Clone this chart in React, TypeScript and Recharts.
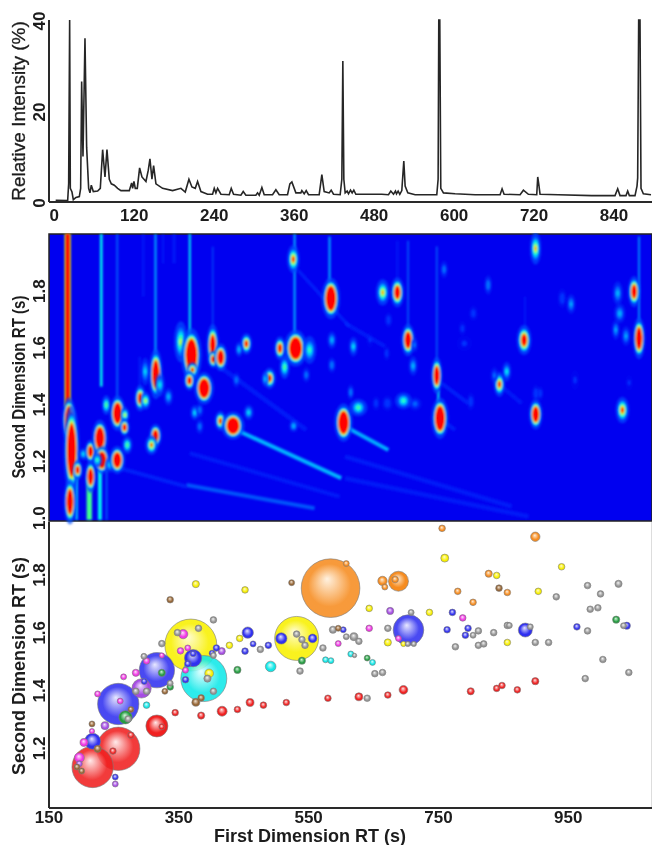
import {
  LineChart,
  Line,
  ScatterChart,
  Scatter,
  XAxis,
  YAxis,
  ZAxis,
  ReferenceLine,
  ReferenceArea,
} from "recharts";

const FONT = '"Liberation Sans", Arial, sans-serif';
const INK = "#1c1c1c";

// total ion chromatogram: [time (s), relative intensity (%)]
const ticTrace = [
  [2, 0.4], [20, 0.3], [21.5, 4], [23, 40], [24, 3], [26.5, 2.2], [28.5, 0.5], [32.5, 1], [37.5, 1.2], [39.5, 3],
  [41, 26.5], [43, 10], [46, 36], [48.5, 12], [51.5, 3], [53.5, 2], [55.5, 3.7], [58.5, 2.3], [65, 2.4], [69, 3],
  [72.5, 11.5], [76, 5.5], [79, 11.5], [82.5, 5], [85.5, 4], [90, 3.7], [95, 3], [100, 2.5], [112.5, 2.5], [116, 4.2],
  [117.5, 3], [119.5, 4.5], [121.5, 3], [124.5, 3], [128, 7.5], [131.5, 5.5], [137.5, 4.5], [141, 7], [143.5, 9.5],
  [146.5, 5], [149, 8], [152.5, 4], [162.5, 3], [177.5, 2.5], [190, 3], [196.5, 2.2], [202, 5], [206.5, 3.3],
  [211.5, 3], [215, 4.5], [220, 2.3], [230, 1.7], [237.5, 1.7], [240, 3], [242.5, 2], [245, 3], [250, 1.7],
  [262.5, 1.6], [265.5, 3], [269, 1.7], [280, 1.5], [283.5, 2.3], [287.5, 1.5], [302.5, 1.5], [305, 2], [307.5, 1.5],
  [311.5, 3.2], [315, 1.6], [327.5, 1.6], [332.5, 2.7], [337.5, 1.6], [350, 1.6], [353.5, 4], [356.5, 4.4],
  [362.5, 2], [370, 2], [371.5, 2.5], [375, 1.8], [378, 2.5], [381.5, 1.6], [397.5, 1.6], [401.5, 6], [405, 2.3],
  [412.5, 2], [415.5, 2.6], [419, 1.7], [429, 1.6], [431.5, 5], [433, 31], [434.5, 5], [436.5, 2], [439.5, 2.4],
  [441.5, 1.8], [444.5, 2.6], [447, 2], [449.5, 2.6], [452.5, 1.7], [471.5, 1.7], [491.5, 1.7], [501.5, 1.6],
  [505, 2.4], [509, 1.7], [512, 2.4], [513.5, 1.8], [516, 2.4], [518.5, 1.7], [521.5, 2.5], [524.5, 9], [526.5, 3.5],
  [530.5, 2], [541.5, 1.6], [574, 1.6], [576, 5], [577, 40], [578.5, 40], [580, 3], [584, 2], [601.5, 1.8],
  [631.5, 1.6], [669, 1.6], [672, 2.9], [675, 1.7], [699, 1.6], [704, 2.6], [711.5, 1.7], [724, 1.6], [725.5, 5.5],
  [727, 4], [729, 1.7], [756.5, 1.6], [806.5, 1.4], [841.5, 1.4], [845.5, 2.9], [849, 1.4], [858, 1.4], [860.5, 2.4],
  [863, 1.4], [871.5, 1.4], [874.5, 3.5], [875.5, 5.3], [877, 40], [879, 40], [880.5, 3], [884, 1.8], [895.5, 1.6],
];
const ticTimeTicks = [0, 120, 240, 360, 480, 600, 720, 840];
const ticIntensityTicks = [0, 20, 40];

// contour plot peaks: [1st dim (s), 2nd dim (s), half width (s), half height (s), apex]
const contourPeaks = [
  [24, 1.328, 5, 0.059, 3], [28, 1.222, 6, 0.118, 3], [25.5, 1.04, 4.5, 0.059, 2.5], [37, 1.152, 3.5, 0.024, 1.5],
  [46, 1.208, 4, 0.014, 0.45], [56.5, 1.217, 4, 0.029, 2], [56.5, 1.128, 4, 0.041, 2.2], [70.5, 1.264, 6, 0.047, 3],
  [73.5, 1.187, 6, 0.035, 3], [66.5, 1.187, 3.5, 0.018, 0.6], [85.5, 1.17, 4, 0.018, 0.45], [96.5, 1.187, 6, 0.035, 2.5],
  [97, 1.352, 6, 0.045, 3], [108, 1.346, 3, 0.018, 0.8], [107.5, 1.302, 3.5, 0.021, 1.5], [111.5, 1.24, 3.5, 0.021, 0.7],
  [80, 1.381, 3, 0.024, 0.7], [131, 1.405, 4, 0.033, 1.6], [139, 1.396, 3.5, 0.021, 0.8], [154.5, 1.49, 5, 0.065, 2.5],
  [160.5, 1.452, 3.5, 0.029, 0.5], [138.5, 1.499, 3, 0.035, 0.45], [173.5, 1.41, 3, 0.021, 0.4], [154, 1.273, 4.5, 0.029, 2],
  [148, 1.24, 4.5, 0.024, 1], [192, 1.604, 5, 0.053, 0.8], [208, 1.557, 8, 0.07, 3], [209.5, 1.505, 4, 0.018, 1.2],
  [205, 1.467, 4, 0.024, 1.5], [227, 1.44, 7.5, 0.041, 3], [240, 1.593, 4.5, 0.053, 2], [241, 1.542, 4, 0.021, 1.5],
  [252, 1.549, 5, 0.035, 2.2], [290.5, 1.597, 4, 0.026, 1.3], [279.5, 1.577, 2.5, 0.018, 0.4], [325.5, 1.475, 4.5, 0.026, 1.3],
  [319, 1.473, 2.5, 0.018, 0.4], [341, 1.581, 4, 0.029, 1.5], [348, 1.514, 3.5, 0.029, 0.7], [364.5, 1.581, 9, 0.047, 3],
  [385.5, 1.575, 5, 0.035, 0.6], [361, 1.895, 4.5, 0.035, 1.1], [417.5, 1.757, 7, 0.053, 3], [419, 1.61, 3, 0.021, 0.4],
  [419, 1.522, 2.5, 0.018, 0.3], [436.5, 1.319, 7, 0.049, 3], [251.5, 1.325, 4, 0.024, 1.2], [270.5, 1.308, 9, 0.035, 3],
  [294, 1.355, 3.5, 0.018, 0.45], [213, 1.354, 3, 0.018, 0.45], [220.5, 1.363, 2.5, 0.018, 0.25], [220.5, 1.305, 2.5, 0.018, 0.25],
  [361.5, 1.307, 3, 0.014, 0.4], [275.5, 1.469, 2.5, 0.018, 0.25], [380.5, 1.487, 2.5, 0.018, 0.25],
  [725, 1.933, 4, 0.041, 0.9], [587.6, 1.859, 2.5, 0.021, 0.25], [495.4, 1.778, 5, 0.033, 0.9], [517.4, 1.778, 5, 0.038, 1.8],
  [533.5, 1.61, 5, 0.041, 2.2], [543, 1.593, 2.5, 0.018, 0.2], [576.6, 1.485, 4, 0.047, 2.2], [581.5, 1.334, 6.5, 0.053, 3],
  [541, 1.519, 3, 0.024, 0.4], [653.8, 1.804, 2.5, 0.024, 0.3], [707.8, 1.61, 5.5, 0.038, 1.6], [670.7, 1.454, 4, 0.031, 1.2],
  [681.7, 1.499, 3, 0.024, 0.5], [725.3, 1.348, 5, 0.038, 2.2], [855.5, 1.363, 5, 0.033, 1.1], [848.5, 1.775, 3.5, 0.029, 0.4],
  [851.5, 1.704, 4, 0.024, 0.4], [845.6, 1.646, 2.5, 0.024, 0.35], [860.9, 1.624, 3, 0.024, 0.35], [873.1, 1.781, 4.5, 0.039, 1.8],
  [880.5, 1.616, 4.5, 0.053, 2.4], [778.4, 1.737, 3, 0.024, 0.35], [765, 1.757, 3, 0.024, 0.15], [526.5, 1.396, 6.5, 0.02, 0.6],
  [458.8, 1.372, 7, 0.021, 0.65], [451.3, 1.587, 3, 0.024, 0.45], [447.3, 1.426, 2, 0.018, 0.3], [502.4, 1.387, 4, 0.018, 0.15],
  [544, 1.385, 5, 0.015, 0.2], [627.7, 1.393, 2.5, 0.021, 0.15], [485.4, 1.387, 2.5, 0.018, 0.12], [504.1, 1.681, 2.5, 0.018, 0.15],
  [631.6, 1.704, 3, 0.018, 0.12], [615.1, 1.651, 2.5, 0.018, 0.1], [618, 1.598, 6, 0.018, 0.08], [501.4, 1.563, 2, 0.018, 0.12],
  [725.5, 1.422, 2.5, 0.021, 0.15], [732, 1.422, 2, 0.018, 0.12], [663.2, 1.485, 2.5, 0.021, 0.2], [476.3, 1.61, 2.5, 0.018, 0.08],
  [784.4, 1.469, 3, 0.024, 0.08], [865.6, 1.46, 2.5, 0.018, 0.08],
];
// tailing of the peaks: [x1, y1, x2, y2, level, width (s)]
const contourStreaks = [
  [22, 1.984, 22, 1.375, 0.62, 9], [22, 1.984, 22, 1.375, 0.97, 6], [72.5, 1.984, 72.5, 1.446, 0.4, 4],
  [96.5, 1.984, 96.5, 1.399, 0.2, 3], [154, 1.984, 154, 1.528, 0.28, 3], [70.5, 1.152, 70.5, 0.976, 0.45, 6],
  [54.5, 1.128, 54.5, 0.976, 0.55, 8], [35.5, 1.128, 35.5, 0.976, 0.3, 4], [80.5, 1.152, 80.5, 0.976, 0.16, 3],
  [205.5, 1.984, 205.5, 1.622, 0.38, 3], [240, 1.939, 240, 1.634, 0.14, 2], [363, 1.984, 363, 1.61, 0.3, 3],
  [415.5, 1.975, 415.5, 1.798, 0.3, 3], [182, 1.984, 182, 1.88, 0.1, 4], [165.5, 1.984, 165.5, 1.88, 0.07, 3],
  [135.5, 1.984, 135.5, 1.763, 0.08, 3], [130.5, 1.551, 130.5, 1.422, 0.1, 3], [517.4, 1.96, 517.4, 1.82, 0.1, 2.5],
  [533.5, 1.96, 533.5, 1.646, 0.2, 2.5], [576.6, 1.94, 576.6, 1.528, 0.2, 2.5], [579, 1.434, 579, 1.375, 0.4, 3],
  [880.5, 1.975, 880.5, 1.657, 0.25, 2.5], [709, 1.763, 709, 1.646, 0.05, 3],
  [275.5, 1.293, 433, 1.123, 0.3, 6], [200.5, 1.099, 393, 1.017, 0.18, 6], [100.5, 1.158, 200.5, 1.093, 0.12, 6],
  [205.5, 1.211, 430.5, 1.058, 0.08, 6], [368, 1.857, 445.5, 1.657, 0.1, 5], [250.5, 1.516, 380.5, 1.293, 0.07, 7],
  [438.8, 1.305, 503.9, 1.222, 0.28, 6], [438.8, 1.199, 689, 1.023, 0.08, 7], [438.8, 1.123, 714.3, 0.988, 0.06, 7],
  [584, 1.457, 624, 1.387, 0.12, 6], [584, 1.328, 604, 1.293, 0.1, 6], [674, 1.446, 704, 1.387, 0.06, 6],
  [438.8, 1.669, 499, 1.587, 0.07, 6],
];
const secondDimTicks = [1.0, 1.2, 1.4, 1.6, 1.8];

// identified compounds by class: [1st dim RT, 2nd dim RT, peak area]
const redPeaks = [
  [217.2, 1.132, 427], [256.7, 1.195, 469], [316.2, 1.274, 121], [248.5, 1.187, 11], [276.2, 1.242, 11], [323.8, 1.271, 9],
  [344.4, 1.32, 11], [384.4, 1.31, 13], [416.7, 1.325, 25], [440.3, 1.331, 11], [459.7, 1.355, 16], [480.3, 1.346, 11],
  [515.6, 1.355, 11], [579.7, 1.37, 11], [627.4, 1.375, 16], [672, 1.381, 11], [696.1, 1.399, 19], [799.7, 1.394, 13],
  [839.7, 1.404, 11], [847.9, 1.414, 11], [871.5, 1.399, 11], [899.2, 1.429, 13],
];
const bluePeaks = [
  [256.7, 1.35, 427], [316.2, 1.467, 312], [217.2, 1.221, 64], [372, 1.509, 75], [456.2, 1.597, 32], [507.9, 1.577, 32],
  [556.1, 1.577, 19], [372, 1.524, 9], [363.8, 1.489, 11], [360.3, 1.434, 11], [401.3, 1.526, 9], [407.9, 1.544, 11],
  [452, 1.533, 11], [464.4, 1.558, 9], [487.9, 1.553, 11], [603.3, 1.607, 9], [252.1, 1.097, 9], [296.7, 1.428, 9],
  [703.8, 1.606, 235], [883.8, 1.606, 49], [771.5, 1.667, 11], [763.3, 1.607, 11], [795.6, 1.612, 11], [791.5, 1.588, 11],
  [963.3, 1.617, 11], [1040.2, 1.621, 13],
];
const yellowPeaks = [
  [368.5, 1.554, 676], [531.5, 1.577, 484], [376.2, 1.765, 13], [452, 1.745, 11], [427.9, 1.553, 11], [443.8, 1.577, 11],
  [396.7, 1.456, 19], [643.3, 1.681, 11], [736.1, 1.667, 11], [672, 1.563, 13], [696.1, 1.558, 7], [759.7, 1.855, 16],
  [839.7, 1.795, 11], [939.7, 1.825, 11], [903.8, 1.74, 11], [856.1, 1.563, 11],
];
const cyanPeaks = [
  [388.5, 1.438, 529], [491.5, 1.48, 28], [300.3, 1.346, 11], [576.1, 1.503, 9], [584.3, 1.5, 9], [615, 1.523, 9], [648.4, 1.494, 9],
];
const orangePeaks = [
  [583.8, 1.751, 860], [608, 1.836, 9], [688.4, 1.775, 100], [663.8, 1.776, 22], [667.4, 1.755, 9], [683.3, 1.781, 11],
  [755.6, 1.958, 11], [899.2, 1.929, 22], [827.4, 1.801, 13], [779.7, 1.74, 11], [803.3, 1.702, 11], [856.1, 1.736, 11],
];
const magentaPeaks = [
  [356.7, 1.592, 22], [196.7, 1.164, 25], [203.9, 1.217, 16], [224.9, 1.385, 9], [259.7, 1.36, 9], [264.9, 1.444, 9],
  [283.8, 1.458, 13], [300.3, 1.499, 11], [323.8, 1.518, 7], [352.6, 1.534, 11], [363.8, 1.544, 9], [360.3, 1.467, 9],
  [216.2, 1.256, 7], [595.6, 1.559, 9], [643.3, 1.612, 11], [688.4, 1.577, 9], [787.4, 1.648, 11],
];
const purplePeaks = [
  [292.6, 1.404, 93], [236.2, 1.275, 16], [416.1, 1.533, 13], [252.1, 1.073, 9], [196.7, 1.143, 9], [675.6, 1.672, 13],
];
const greenPeaks = [
  [267.9, 1.304, 44], [323.8, 1.458, 13], [336.7, 1.409, 11], [440.3, 1.468, 13], [539.7, 1.5, 13], [640.2, 1.509, 9], [1023.8, 1.642, 13],
];
const brownPeaks = [
  [336.7, 1.711, 11], [523.8, 1.77, 9], [216.2, 1.281, 9], [276.2, 1.331, 9], [224.9, 1.195, 13], [193.1, 1.132, 9],
  [200.3, 1.118, 9], [328.5, 1.394, 9], [376.2, 1.356, 16], [384.4, 1.371, 11], [595.6, 1.612, 9], [843.3, 1.751, 11],
];
const greyPeaks = [
  [403.3, 1.641, 11], [380.3, 1.612, 11], [347.9, 1.597, 11], [323.8, 1.559, 11], [296.2, 1.515, 9], [283.8, 1.394, 11],
  [300.3, 1.394, 11], [336.7, 1.422, 9], [272, 1.298, 11], [394.1, 1.438, 13], [403.3, 1.394, 11], [403.3, 1.518, 9],
  [475.6, 1.539, 11], [531.5, 1.592, 11], [539.7, 1.573, 11], [544.4, 1.553, 11], [572, 1.544, 11], [536.7, 1.464, 11],
  [587.4, 1.607, 13], [608, 1.583, 9], [707.9, 1.667, 9], [672, 1.612, 11], [619.7, 1.583, 16], [627.4, 1.567, 11],
  [620.7, 1.518, 5], [652, 1.455, 11], [663.8, 1.459, 11], [640.2, 1.37, 11], [702.8, 1.558, 7], [712, 1.558, 7],
  [811.5, 1.603, 11], [803.3, 1.588, 9], [835.1, 1.597, 11], [776.1, 1.548, 11], [811.5, 1.553, 11], [819.7, 1.558, 11],
  [856.1, 1.622, 11], [859.2, 1.622, 9], [891.5, 1.617, 9], [899.2, 1.563, 11], [919.7, 1.563, 11], [931.5, 1.721, 11],
  [979.7, 1.76, 11], [999.7, 1.731, 11], [1027.4, 1.766, 13], [983.8, 1.678, 11], [995.6, 1.683, 11], [979.7, 1.603, 11],
  [1035.1, 1.621, 9], [1003.3, 1.504, 11], [976.1, 1.438, 11], [1043.3, 1.459, 11],
];
const bubbleRtTicks = [150, 350, 550, 750, 950];
const bubbleSecondTicks = [1.2, 1.4, 1.6, 1.8];

const CLASSES = [
  { id: "red", color: "#f02020", tint: "#ffe8e8", peaks: redPeaks },
  { id: "blue", color: "#3030f0", tint: "#e4e4ff", peaks: bluePeaks },
  { id: "yellow", color: "#f8f000", tint: "#fffcd0", peaks: yellowPeaks },
  { id: "cyan", color: "#10e8e8", tint: "#e0ffff", peaks: cyanPeaks },
  { id: "orange", color: "#f68c20", tint: "#fff0dc", peaks: orangePeaks },
  { id: "magenta", color: "#f035e4", tint: "#ffe4fc", peaks: magentaPeaks },
  { id: "purple", color: "#a64ce4", tint: "#f4e8ff", peaks: purplePeaks },
  { id: "green", color: "#249c40", tint: "#d0f4d8", peaks: greenPeaks },
  { id: "brown", color: "#946434", tint: "#f2e4d4", peaks: brownPeaks },
  { id: "grey", color: "#959595", tint: "#f4f4f4", peaks: greyPeaks },
];

const ticData = ticTrace.map(([t, v]) => ({ t, v }));
const spotData = contourPeaks.map(([rt1, rt2, w, h, apex]) => ({ rt1, rt2, w, h, apex }));
const bubbleData = CLASSES.flatMap((c) => c.peaks.map(([rt1, rt2, z]) => ({ rt1, rt2, z, cls: c.id }))).sort(
  (a, b) => b.z - a.z
);

// jet colormap steps
const JET = [
  [0.05, "#0030ff"],
  [0.15, "#0070ff"],
  [0.3, "#00b4ff"],
  [0.42, "#00f0f0"],
  [0.55, "#40ff90"],
  [0.7, "#c8ff20"],
  [0.82, "#ff9000"],
  [0.95, "#ff0000"],
] as const;

const jetColor = (level: number) => {
  let out = "#0000f0";
  JET.forEach(([t, c]) => {
    if (level >= t) out = c;
  });
  return out;
};

// px per unit of the contour plot
const PX_X = 603 / 906;
const PX_Y = 287 / 1.012;

const ContourSpot = (props: any) => {
  const { cx, cy, payload } = props;
  const { w, h, apex } = payload;
  return (
    <g filter="url(#soft)">
      <ellipse cx={cx} cy={cy} rx={w * PX_X * 1.75 + 1} ry={h * PX_Y * 1.3 + 1} fill="#0050ff" fillOpacity={Math.min(0.7, apex)} />
      {JET.filter(([t]) => t < apex).map(([t, c]) => {
        const s = 1 - t / apex;
        return <ellipse key={t} cx={cx} cy={cy} rx={w * PX_X * 1.35 * s + 0.8} ry={h * PX_Y * 1.1 * s + 0.8} fill={c} />;
      })}
    </g>
  );
};

const Bubble = (props: any) => {
  const { cx, cy, width, payload } = props;
  const r = width / 2;
  return (
    <circle
      cx={cx}
      cy={cy}
      r={r}
      fill={`url(#grad-${payload.cls})`}
      fillOpacity={r > 15 ? 0.88 : 1}
      stroke="#7a7a7a"
      strokeOpacity={0.75}
      strokeWidth={0.8}
    />
  );
};

const SideTick = (props: any) => {
  const { x, y, payload, digits, shift = 0 } = props;
  const cy = y + shift;
  return (
    <text
      x={x}
      y={cy}
      transform={`rotate(-90 ${x} ${cy})`}
      textAnchor="middle"
      fontFamily={FONT}
      fontWeight={700}
      fontSize={17}
      fill={INK}
    >
      {Number(payload.value).toFixed(digits)}
    </text>
  );
};

const tickStyle = { fontFamily: FONT, fontWeight: 700, fontSize: 17, fill: INK };
const axisStyle = { stroke: "#2a2a2a", strokeWidth: 2 };

const SideTitle = ({ text, y, weight, size, squeeze = 1, stroke = 0 }: any) => (
  <div
    style={{
      position: "absolute",
      left: 19,
      top: y,
      transform: `translate(-50%,-50%) rotate(-90deg) scaleX(${squeeze})`,
      whiteSpace: "nowrap",
      fontFamily: FONT,
      fontWeight: weight,
      fontSize: size,
      color: INK,
      WebkitTextStroke: `${stroke}px ${INK}`,
    }}
  >
    {text}
  </div>
);

const App = () => {
  return (
    <div
      style={{
        position: "absolute",
        left: 0,
        top: 0,
        width: 652,
        height: 845,
        background: "#fff",
        overflow: "hidden",
        filter: "blur(0.35px)",
      }}
    >
      <style>{`.heat line { filter: url(#tail); }`}</style>
      <svg width={0} height={0} style={{ position: "absolute" }}>
        <defs>
          <filter id="soft" filterUnits="userSpaceOnUse" x={0} y={0} width={652} height={300}>
            <feGaussianBlur stdDeviation={1.2} />
          </filter>
          <filter id="tail" filterUnits="userSpaceOnUse" x={0} y={0} width={652} height={300}>
            <feGaussianBlur stdDeviation={1.1} />
          </filter>
          {CLASSES.map((c) => (
            <radialGradient key={c.id} id={`grad-${c.id}`} cx="50%" cy="50%" r="52%" fx="44%" fy="34%">
              <stop offset="0%" stopColor={c.tint} />
              <stop offset="70%" stopColor={c.color} />
              <stop offset="100%" stopColor={c.color} />
            </radialGradient>
          ))}
        </defs>
      </svg>

      <div style={{ position: "absolute", left: 0, top: 0 }}>
        <LineChart width={652} height={235} data={ticData} margin={{ top: 20, right: 0, bottom: 0, left: 0 }}>
          <XAxis
            dataKey="t"
            type="number"
            domain={[-8, 897]}
            ticks={ticTimeTicks}
            interval={0}
            height={33}
            tickLine={false}
            tickSize={0}
            tickMargin={7}
            axisLine={axisStyle}
            tick={tickStyle}
            allowDataOverflow
          />
          <YAxis
            type="number"
            domain={[0, 40]}
            ticks={ticIntensityTicks}
            width={49}
            tickLine={false}
            tickSize={0}
            tickMargin={4}
            axisLine={axisStyle}
            tick={<SideTick digits={0} shift={1} />}
          />
          <Line
            dataKey="v"
            type="linear"
            stroke="#262626"
            strokeWidth={1.6}
            dot={false}
            isAnimationActive={false}
          />
        </LineChart>
      </div>

      <div className="heat" style={{ position: "absolute", left: 0, top: 233 }}>
        <ScatterChart width={652} height={302} margin={{ top: 1, right: 0, bottom: 14, left: 0 }}>
          <XAxis dataKey="rt1" type="number" domain={[-6, 900]} hide height={0} />
          <YAxis
            dataKey="rt2"
            type="number"
            domain={[0.972, 1.984]}
            ticks={secondDimTicks}
            width={49}
            tickLine={false}
            tickSize={0}
            tickMargin={4}
            axisLine={false}
            tick={<SideTick digits={1} shift={5} />}
          />
          <ReferenceArea x1={-6} x2={900} y1={0.972} y2={1.984} fill="#0000f0" fillOpacity={1} stroke="#222" strokeWidth={1.5} />
          {contourStreaks.map(([x1, y1, x2, y2, level, w], i) => (
            <ReferenceLine
              key={i}
              segment={[
                { x: x1, y: y1 },
                { x: x2, y: y2 },
              ]}
              stroke={jetColor(level * 1.2)}
              strokeOpacity={Math.min(1, 0.4 + level * 2)}
              strokeWidth={w * PX_X}
            />
          ))}
          <Scatter data={spotData} shape={<ContourSpot />} isAnimationActive={false} />
        </ScatterChart>
      </div>

      <div style={{ position: "absolute", left: 0, top: 521 }}>
        <ScatterChart width={652} height={324} margin={{ top: 1, right: 0, bottom: 0, left: 0 }}>
          <XAxis
            dataKey="rt1"
            type="number"
            domain={[150, 1079]}
            ticks={bubbleRtTicks}
            interval={0}
            height={37}
            tickLine={false}
            tickSize={0}
            tickMargin={3}
            axisLine={axisStyle}
            tick={tickStyle}
            allowDataOverflow
          />
          <YAxis
            dataKey="rt2"
            type="number"
            domain={[0.99, 1.98]}
            ticks={bubbleSecondTicks}
            width={49}
            tickLine={false}
            tickSize={0}
            tickMargin={4}
            axisLine={axisStyle}
            tick={<SideTick digits={1} shift={1} />}
          />
          <ZAxis dataKey="z" type="number" domain={[0, 1000]} range={[0, 3141.6]} />
          <ReferenceLine x={1079} stroke="#bbb" ifOverflow="extendDomain" />
          <Scatter data={bubbleData} shape={<Bubble />} isAnimationActive={false} />
        </ScatterChart>
      </div>

      <SideTitle text="Relative Intensity (%)" y={111} weight={400} size={19} stroke={0.3} />
      <SideTitle text="Second Dimension RT (s)" y={387} weight={700} size={18} squeeze={0.84} />
      <SideTitle text="Second Dimension RT (s)" y={666} weight={700} size={18} />
      <div
        style={{
          position: "absolute",
          left: 310,
          top: 836,
          transform: "translate(-50%,-50%)",
          whiteSpace: "nowrap",
          fontFamily: FONT,
          fontWeight: 700,
          fontSize: 18,
          color: INK,
        }}
      >
        First Dimension RT (s)
      </div>
    </div>
  );
};

export default App;
